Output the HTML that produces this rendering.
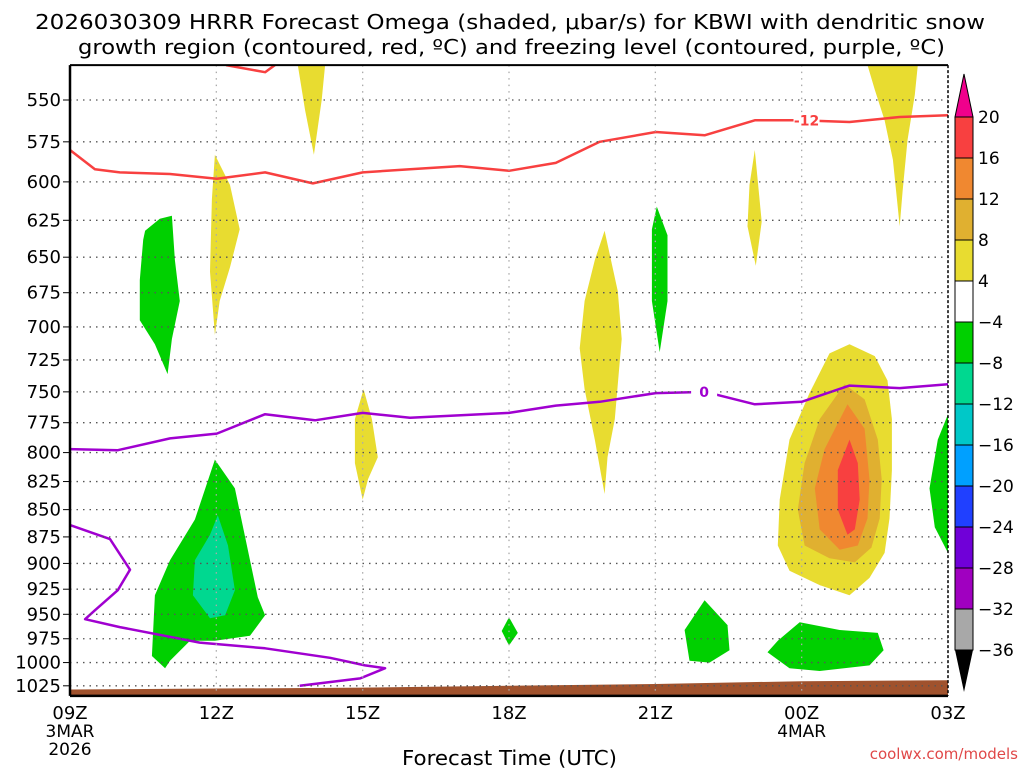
<!DOCTYPE html>
<html><head><meta charset="utf-8"><style>
body{margin:0;background:#fff;width:1024px;height:768px;overflow:hidden}
svg{display:block;font-family:"DejaVu Sans","Liberation Sans",sans-serif}
</style></head><body>
<svg id="c" width="1024" height="768" viewBox="0 0 1024 768">
<text x="35" y="29" textLength="950" lengthAdjust="spacingAndGlyphs" font-size="20" fill="#000">2026030309 HRRR Forecast Omega (shaded, μbar/s) for KBWI with dendritic snow</text>
<text x="78" y="54" textLength="867" lengthAdjust="spacingAndGlyphs" font-size="20" fill="#000">growth region (contoured, red, ºC) and freezing level (contoured, purple, ºC)</text>
<g id="plot"></g>
<g id="cbar"></g>
<text x="402" y="765" textLength="215" lengthAdjust="spacingAndGlyphs" font-size="20">Forecast Time (UTC)</text>
<text x="1018" y="759" text-anchor="end" font-size="15" fill="#e04848">coolwx.com/models</text>
</svg>
<script>
const levels=[550,575,600,625,650,675,700,725,750,775,800,825,850,875,900,925,950,975,1000,1025];
const timeTicks=[0,3,6,9,12,15,18];
const timeLabels=["09Z","12Z","15Z","18Z","21Z","00Z","03Z"];
const redHours=[0,0.51,1.02,2.05,3.01,4.0,4.98,6.0,6.97,7.99,9.0,9.96,10.86,12.01,13.01,14.04,14.96,15.98,17.01,18];
const redP=[580,592,594,595,598,594,601,594,592,590,593,588,575,569,571,562,562,563,560,559];
const redTopHours=[3.2,4.0,4.2];
const redTopP=[530,534,530];
const frzHours=[0,0.98,2.05,3.01,4.0,5.02,6.0,6.97,9.0,9.96,10.86,12.01,13.03,14.04,15.0,15.98,17.01,18];
const frzP=[797,798,788,784,768,773,767,771,767,761,758,751,750,760,758,745,747,744];
const frzLowHours=[0,0.82,1.23,0.98,0.51,0.31,1.02,2.66,4.0,5.33,6.05,6.46,5.95,4.71];
const frzLowP=[864,877,906,926,946,955,963,979,985,995,1003,1006,1017,1025];
const terrainHours=[0,3,6,9,12,15,18];
const terrainP=[1029,1028,1027,1025,1023,1020,1019];
const cbVals=["20","16","12","8","4","−4","−8","−12","−16","−20","−24","−28","−32","−36"];
const cbColors=["#f84040","#f08830","#e0b030","#e8dc30","#ffffff","#00d000","#00d890","#00c8c8","#00a0ff","#2040ff","#7000d8","#a000c0","#a8a8a8"];
const shadeLevels=[5,5,6,5,5,5,5,5,3,3,3,3,3,3,3,2,1,0];
const shadeNames=["neg-omega-green-1","neg-omega-green-2","neg-omega-teal-core","neg-omega-green-3","neg-omega-green-4","neg-omega-green-5","neg-omega-green-6","neg-omega-green-7","pos-omega-yellow-1","pos-omega-yellow-2","pos-omega-yellow-3","pos-omega-yellow-4","pos-omega-yellow-5","pos-omega-yellow-6","pos-omega-blob-4","pos-omega-blob-8","pos-omega-blob-12","pos-omega-blob-16"];
const shadePolys=[
[[1.54,632],[1.84,624],[2.09,622],[2.15,652],[2.25,681],[2.09,709],[2.0,736],[1.74,713],[1.43,695],[1.43,666],[1.50,638]],
[[2.97,806],[3.38,831],[3.69,897],[3.85,933],[4.0,951],[3.69,972],[2.97,977],[2.46,977],[2.05,998],[1.95,1006],[1.68,993],[1.74,931],[2.05,897],[2.56,859]],
[[3.03,855],[3.24,883],[3.38,926],[3.18,951],[2.87,954],[2.52,931],[2.56,897],[2.87,873]],
[[12.03,616],[12.25,635],[12.25,681],[12.09,719],[11.93,681],[11.93,631]],
[[9.0,953],[9.18,969],[9.0,982],[8.85,967]],
[[13.01,936],[13.48,961],[13.52,987],[13.11,1000],[12.7,998],[12.6,966]],
[[14.96,958],[15.78,966],[16.56,969],[16.68,987],[16.39,1003],[15.37,1009],[14.75,1006],[14.3,989],[14.51,977]],
[[18,768],[18,890],[17.73,866],[17.62,831],[17.79,789]],
[[4.67,530],[5.23,530],[5.16,550],[5.0,583],[4.82,556]],
[[2.97,583],[3.28,602],[3.48,631],[3.28,657],[3.07,681],[2.97,706],[2.87,660],[2.91,611]],
[[6.02,748],[6.19,772],[6.31,804],[6.11,823],[6.0,841],[5.84,809],[5.84,772]],
[[10.96,632],[11.23,674],[11.31,709],[11.17,772],[11.02,804],[10.96,836],[10.76,789],[10.55,748],[10.45,716],[10.55,681],[10.76,652]],
[[14.04,580],[14.18,626],[14.06,656],[13.89,629],[13.93,602]],
[[16.35,530],[17.38,530],[17.32,547],[17.17,574],[17.07,606],[17.01,629],[16.87,586],[16.7,562],[16.5,544]],
[[15.98,713],[16.5,722],[16.76,741],[16.85,772],[16.85,815],[16.8,858],[16.7,890],[16.39,914],[15.98,931],[15.37,921],[14.75,907],[14.51,883],[14.55,841],[14.75,789],[15.16,751],[15.57,720]],
[[15.88,744],[16.29,756],[16.56,789],[16.64,823],[16.6,858],[16.43,885],[16.09,899],[15.57,895],[15.06,883],[14.92,850],[15.06,809],[15.37,772]],
[[15.94,760],[16.29,780],[16.39,823],[16.35,858],[16.15,883],[15.78,887],[15.37,868],[15.27,831],[15.47,797]],
[[15.98,789],[16.15,809],[16.19,841],[16.09,868],[15.94,873],[15.74,850],[15.74,815]]
];
const X0=70,X1=948,HMAX=18,PTOP=530,PBOT=1036;
function xs(h){return X0+h*(X1-X0)/HMAX;}
function ys(p){return 100+941*Math.log(p/550);}
const NS="http://www.w3.org/2000/svg";
function mk(par,tag,at){const e=document.createElementNS(NS,tag);for(const k in at)e.setAttribute(k,at[k]);par.appendChild(e);return e;}
const plot=document.getElementById('plot');
const YT=ys(PTOP),YB=ys(PBOT);
const defs=mk(plot,'defs',{});
const cp=mk(defs,'clipPath',{id:'clip'});
mk(cp,'rect',{x:X0,y:YT,width:X1-X0,height:YB-YT});
const g=mk(plot,'g',{'clip-path':'url(#clip)'});
shadePolys.forEach((poly,i)=>{
  const el=mk(g,'polygon',{points:poly.map(q=>xs(q[0]).toFixed(1)+','+ys(q[1]).toFixed(1)).join(' '),fill:cbColors[shadeLevels[i]]});
  
  
});
levels.forEach(p=>{
  const l=mk(plot,'line',{x1:X0,x2:X1,y1:ys(p),y2:ys(p),stroke:'#555','stroke-width':1.3,'stroke-dasharray':'1.5 5'});
  
  
  mk(plot,'line',{x1:X0-7,x2:X0,y1:ys(p),y2:ys(p),stroke:'#000','stroke-width':1});
  const t=mk(plot,'text',{x:61,y:ys(p)+6,'text-anchor':'end','font-size':18});
  t.textContent=p;
  
  
});
timeTicks.forEach((h,i)=>{
  if(h>0&&h<HMAX){
    const l=mk(plot,'line',{x1:xs(h),x2:xs(h),y1:YT,y2:YB,stroke:'#aaa','stroke-width':1.3,'stroke-dasharray':'1.5 5'});
    
    
  }
  const t=mk(plot,'text',{x:xs(h),y:719,'text-anchor':'middle','font-size':18});
  t.textContent=timeLabels[i];
  
  
});
[["3MAR",0,737],["2026",0,755],["4MAR",15,737]].forEach(a=>{
  const t=mk(plot,'text',{x:xs(a[1]),y:a[2],'text-anchor':'middle','font-size':17});
  t.textContent=a[0];
  
  
});
const tp=terrainHours.map((h,i)=>xs(h)+','+ys(terrainP[i])).join(' ')+' '+xs(HMAX)+','+YB+' '+xs(0)+','+YB;
const terr=mk(g,'polygon',{points:tp,fill:'#a0522d'});


function line(hs,ps,col,name){
  const el=mk(g,'polyline',{points:hs.map((h,i)=>xs(h).toFixed(1)+','+ys(ps[i]).toFixed(1)).join(' '),fill:'none',stroke:col,'stroke-width':2.5,'stroke-linejoin':'round'});
  
  
}
line(redHours,redP,'#f84040','dgz-minus12-contour');
line(redTopHours,redTopP,'#f84040','dgz-upper-contour');
line(frzHours,frzP,'#a000d0','freezing-level-contour');
line(frzLowHours,frzLowP,'#a000d0','freezing-level-low-contour');
function clabel(h,p,txt,col,name){
  mk(plot,'rect',{x:xs(h)-13,y:ys(p)-8,width:26,height:16,fill:'#fff'});
  const t=mk(plot,'text',{x:xs(h),y:ys(p)+5,'text-anchor':'middle','font-size':14,'font-weight':'bold',fill:col});
  t.textContent=txt;
  
  
}
clabel(15.1,562,'-12','#f84040','contour-label-minus12');
clabel(13.0,750,'0','#a000d0','contour-label-zero');
mk(plot,'line',{x1:X0,x2:X1,y1:YT,y2:YT,stroke:'#000','stroke-width':2});
mk(plot,'line',{x1:X0,x2:X0,y1:YT,y2:YB,stroke:'#000','stroke-width':2.5});
mk(plot,'line',{x1:X0,x2:X1,y1:YB,y2:YB,stroke:'#000','stroke-width':2.5});
mk(plot,'line',{x1:X1,x2:X1,y1:YT,y2:YB,stroke:'#000','stroke-width':1.5,'stroke-dasharray':'3 2'});
const cb=document.getElementById('cbar');
const CX=955,CW=18,CT=117,CH=41;
const tri1=mk(cb,'polygon',{points:`${CX},${CT} ${CX+CW},${CT} ${CX+CW/2},74`,fill:'#f0008c',stroke:'#000'});


cbColors.forEach((c,i)=>{
  const r=mk(cb,'rect',{x:CX,y:CT+i*CH,width:CW,height:CH,fill:c,stroke:'#000','stroke-width':1});
  
  
});
const yb=CT+cbColors.length*CH;
const tri2=mk(cb,'polygon',{points:`${CX},${yb} ${CX+CW},${yb} ${CX+CW/2},692`,fill:'#000'});


cbVals.forEach((v,i)=>{
  const t=mk(cb,'text',{x:978,y:CT+i*CH+6,'font-size':17});
  t.textContent=v;
  
  
});
</script>
</body></html>
